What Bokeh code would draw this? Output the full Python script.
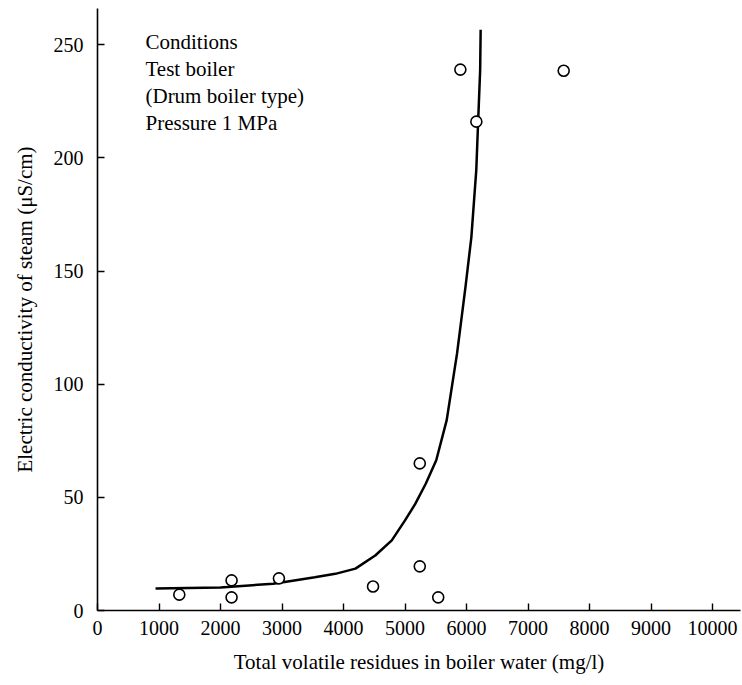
from bokeh.plotting import figure
from bokeh.models import Range1d, Label, FixedTicker
from bokeh.embed import file_html
from bokeh.resources import INLINE

# Observed points: total volatile residues (mg/l) vs conductivity (uS/cm)
obs_x = [1330, 2180, 2180, 2950, 4480, 5240, 5240, 5540, 5900, 6160, 7580]
obs_y = [7.0, 13.3, 5.8, 14.2, 10.6, 65.0, 19.5, 5.8, 239.0, 216.0, 238.5]

# Hand-drawn trend curve
curve_x = [944, 2000, 2855, 3200, 3533, 3867, 4194, 4516, 4785, 5000, 5169, 5339, 5508,
           5678, 5847, 5983, 6079, 6159, 6190, 6222, 6230]
curve_y = [9.7, 10.2, 11.8, 13.3, 14.7, 16.2, 18.5, 24.3, 31.0, 39.8, 47.2, 56.1, 66.4,
           84.1, 113.7, 142.9, 165.0, 194.7, 216.8, 238.9, 256.6]

x_ticks = [0, 1000, 2000, 3000, 4000, 5000, 6000, 7000, 8000, 9000, 10000]
y_ticks = [0, 50, 100, 150, 200, 250]

notes = ["Conditions", "Test boiler", "(Drum boiler type)", "Pressure 1 MPa"]
notes_y = [251.3, 239.4, 227.4, 215.5]

FONT = "Liberation Serif"

p = figure(frame_width=643, frame_height=602,
           x_range=Range1d(0, 10455), y_range=Range1d(0, 266),
           output_backend="svg", toolbar_location=None,
           min_border_left=97, min_border_right=1, min_border_top=8, min_border_bottom=66)

p.outline_line_color = None
p.xgrid.visible = False
p.ygrid.visible = False
p.background_fill_color = "white"
p.border_fill_color = "white"

p.xaxis.ticker = FixedTicker(ticks=x_ticks)
p.yaxis.ticker = FixedTicker(ticks=y_ticks)
for ax in (p.xaxis[0], p.yaxis[0]):
    ax.axis_line_color = "black"
    ax.axis_line_width = 1.6
    ax.major_tick_line_color = "black"
    ax.major_tick_line_width = 1.4
    ax.major_tick_in = 7
    ax.major_tick_out = 0
    ax.minor_tick_line_color = None
    ax.major_label_text_font = FONT
    ax.major_label_text_font_size = "20px"
    ax.major_label_text_color = "black"
    ax.axis_label_text_font = FONT
    ax.axis_label_text_font_size = "21px"
    ax.axis_label_text_font_style = "normal"
    ax.axis_label_text_color = "black"

p.xaxis.major_label_standoff = 10
p.yaxis.major_label_standoff = 14
p.xaxis.axis_label = "Total volatile residues in boiler water (mg/l)"
p.yaxis.axis_label = "Electric conductivity of steam (\u03bcS/cm)"
p.xaxis.axis_label_standoff = 12
p.yaxis.axis_label_standoff = 14

p.line(curve_x, curve_y, line_width=2.5, line_color="black")
p.scatter(obs_x, obs_y, size=11, fill_color="white", line_color="black", line_width=1.6)

for t, yy in zip(notes, notes_y):
    p.add_layout(Label(x=780, y=yy, text=t, text_font=FONT, text_font_size="21px",
                       text_baseline="middle", text_color="black"))

open("out.html", "w").write(file_html(p, INLINE))
